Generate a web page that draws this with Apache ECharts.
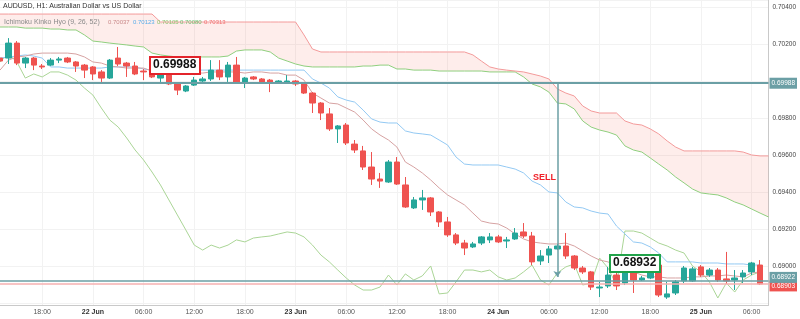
<!DOCTYPE html>
<html>
<head>
<meta charset="utf-8">
<script src="https://cdn.jsdelivr.net/npm/echarts@6/dist/echarts.min.js"></script>
<style>
  html, body { margin: 0; padding: 0; background: #fff; }
  #chart { width: 800px; height: 319px; }
</style>
</head>
<body>
<div id="chart"></div>
<script>
// hourly bars from 21 Jun 13:00, last slot left empty
var startDay = 21, startHour = 13, slotCount = 92;
var categories = [];
for (var i = 0; i < slotCount; i++) {
  var h = startHour + i;
  var d = startDay + Math.floor(h / 24);
  h = h % 24;
  categories.push(h === 0 ? d + ' Jun' : (h < 10 ? '0' + h : h) + ':00');
}

var open = [0.70124,0.70124,0.70205,0.70097,0.70124,0.70081,0.70086,0.70113,0.70124,0.70103,
  0.70086,0.70076,0.70049,0.70016,0.70124,0.70097,0.70081,0.70054,0.70059,0.70016,
  0.70032,0.69984,0.69946,0.69978,0.70000,0.70011,0.70059,0.70022,0.70086,0.69995,
  0.70022,0.70011,0.70005,0.69995,0.69995,0.70000,0.69984,0.69935,0.69881,0.69822,
  0.69741,0.69762,0.69659,0.69622,0.69535,0.69470,0.69454,0.69562,0.69438,0.69314,
  0.69357,0.69368,0.69292,0.69238,0.69168,0.69124,0.69103,0.69124,0.69141,0.69157,
  0.69135,0.69146,0.69184,0.69162,0.69027,0.69059,0.69092,0.69108,0.69054,0.68989,
  0.68968,0.68881,0.68892,0.68951,0.68908,0.68978,0.68924,0.68935,0.69005,0.68832,
  0.68854,0.68919,0.68919,0.68995,0.68951,0.68978,0.68930,0.68924,0.68941,0.68968,
  0.69005];
var close = [0.70108,0.70205,0.70097,0.70124,0.70086,0.70076,0.70113,0.70119,0.70103,0.70081,
  0.70059,0.70038,0.70016,0.70113,0.70092,0.70081,0.70038,0.70049,0.70022,0.70038,
  0.69984,0.69951,0.69973,0.70005,0.70011,0.70059,0.70022,0.70086,0.69989,0.70016,
  0.70011,0.69995,0.69989,0.70000,0.70000,0.69984,0.69935,0.69881,0.69827,0.69741,
  0.69757,0.69665,0.69627,0.69535,0.69470,0.69459,0.69562,0.69443,0.69319,0.69357,
  0.69368,0.69292,0.69238,0.69168,0.69124,0.69097,0.69119,0.69157,0.69157,0.69130,
  0.69141,0.69178,0.69162,0.69022,0.69054,0.69092,0.69108,0.69054,0.68989,0.68968,
  0.68886,0.68886,0.68951,0.68892,0.69032,0.68924,0.68935,0.69043,0.68843,0.68849,
  0.68914,0.68989,0.68984,0.68951,0.68978,0.68924,0.68919,0.68935,0.68962,0.69016,
  0.68903];
var low = [0.70097,0.70092,0.70086,0.70070,0.70059,0.70065,0.70081,0.70097,0.70097,0.70049,
  0.70016,0.70005,0.69995,0.70011,0.70081,0.70022,0.70032,0.70005,0.70016,0.69995,
  0.69978,0.69924,0.69940,0.69973,0.69995,0.70000,0.70005,0.69995,0.69984,0.69962,
  0.70005,0.69984,0.69940,0.69984,0.69984,0.69973,0.69930,0.69827,0.69789,0.69730,
  0.69665,0.69654,0.69611,0.69519,0.69438,0.69422,0.69449,0.69438,0.69314,0.69308,
  0.69303,0.69270,0.69211,0.69157,0.69113,0.69059,0.69097,0.69113,0.69124,0.69124,
  0.69097,0.69141,0.69151,0.69005,0.69005,0.69016,0.69086,0.69038,0.68978,0.68957,
  0.68870,0.68832,0.68881,0.68870,0.68897,0.68854,0.68919,0.68930,0.68832,0.68822,
  0.68843,0.68908,0.68914,0.68941,0.68941,0.68914,0.68903,0.68870,0.68908,0.68951,
  0.68897];
var high = [0.70130,0.70232,0.70216,0.70130,0.70130,0.70092,0.70124,0.70130,0.70130,0.70108,
  0.70092,0.70081,0.70059,0.70119,0.70184,0.70103,0.70103,0.70065,0.70070,0.70049,
  0.70038,0.69989,0.69978,0.70022,0.70022,0.70113,0.70113,0.70103,0.70130,0.70022,
  0.70027,0.70016,0.70011,0.70005,0.70032,0.70005,0.69989,0.69940,0.69886,0.69854,
  0.69762,0.69773,0.69681,0.69649,0.69616,0.69503,0.69573,0.69589,0.69481,0.69373,
  0.69411,0.69373,0.69297,0.69265,0.69178,0.69141,0.69130,0.69162,0.69178,0.69168,
  0.69157,0.69205,0.69232,0.69184,0.69086,0.69108,0.69119,0.69178,0.69059,0.69000,
  0.68973,0.68914,0.68995,0.68968,0.69043,0.68989,0.68946,0.69054,0.69016,0.68914,
  0.68924,0.69000,0.68995,0.69005,0.68989,0.68989,0.69076,0.68978,0.68978,0.69022,
  0.69032];

// Ichimoku (9, 26, 52)
var tenkan = [0.70059,0.70113,0.70130,0.70135,0.70146,0.70151,0.70151,0.70151,0.70151,0.70146,
  0.70130,0.70103,0.70097,0.70081,0.70076,0.70070,0.70070,0.70070,0.70054,0.70049,
  0.70043,0.70043,0.70043,0.70043,0.70043,0.70049,0.70049,0.70049,0.70049,0.70043,
  0.70049,0.70049,0.70043,0.70043,0.70032,0.70032,0.70005,0.69935,0.69908,0.69881,
  0.69876,0.69854,0.69832,0.69789,0.69741,0.69708,0.69681,0.69643,0.69562,0.69535,
  0.69503,0.69465,0.69422,0.69384,0.69357,0.69330,0.69286,0.69243,0.69232,0.69227,
  0.69205,0.69173,0.69146,0.69130,0.69124,0.69119,0.69119,0.69124,0.69108,0.69081,
  0.69054,0.69032,0.69022,0.69000,0.68973,0.68968,0.68951,0.68941,0.68941,0.68935,
  0.68935,0.68935,0.68941,0.68941,0.68946,0.68946,0.68951,0.68946,0.68941,0.68962,
  0.68968];
var kijun = [0.70124,0.70130,0.70135,0.70141,0.70135,0.70124,0.70076,0.70076,0.70070,0.70070,
  0.70070,0.70070,0.70070,0.70076,0.70076,0.70076,0.70076,0.70065,0.70059,0.70059,
  0.70059,0.70059,0.70059,0.70059,0.70059,0.70059,0.70059,0.70059,0.70059,0.70059,
  0.70059,0.70059,0.70059,0.70059,0.70059,0.70059,0.70059,0.70011,0.69989,0.69962,
  0.69914,0.69897,0.69886,0.69843,0.69795,0.69778,0.69773,0.69773,0.69730,0.69719,
  0.69714,0.69708,0.69681,0.69654,0.69589,0.69551,0.69546,0.69546,0.69546,0.69546,
  0.69535,0.69524,0.69503,0.69459,0.69438,0.69400,0.69395,0.69346,0.69319,0.69314,
  0.69297,0.69286,0.69281,0.69216,0.69173,0.69130,0.69124,0.69103,0.69070,0.69022,
  0.69022,0.69022,0.69022,0.69016,0.69016,0.69016,0.69011,0.69011,0.69011,0.69005,
  0.69005];
var chikou = [0.70103,0.70146,0.70103,0.70016,0.70038,0.70022,0.70049,0.70049,0.70032,0.70005,
  0.69962,0.69924,0.69854,0.69789,0.69751,0.69692,0.69627,0.69573,0.69508,0.69438,
  0.69357,0.69276,0.69195,0.69113,0.69086,0.69113,0.69097,0.69113,0.69141,0.69130,
  0.69151,0.69157,0.69162,0.69173,0.69184,0.69178,0.69157,0.69113,0.69059,0.69022,
  0.68978,0.68935,0.68897,0.68870,0.68870,0.68886,0.68951,0.68897,0.68957,0.68924,
  0.68946,0.69000,0.68849,0.68854,0.68914,0.68978,0.68978,0.68968,0.68978,0.68941,
  0.68924,0.68935,0.68968,0.69005,0.68924,0.68897,0.68962,0.68995,0.69011,0.68897,
  0.68908,0.69043,0.68989,0.68897,0.69189,0.69189,0.69178,0.69151,0.69124,0.69108,
  0.69086,0.69070,0.69000,0.68968,0.68914,0.68827,0.68908,0.68859,0.68924,0.68951,
  0.68968];
var spanA = [0.70292,0.70292,0.70292,0.70286,0.70286,0.70286,0.70281,0.70281,0.70276,0.70276,
  0.70249,0.70216,0.70211,0.70205,0.70200,0.70195,0.70189,0.70184,0.70151,0.70141,
  0.70135,0.70130,0.70130,0.70130,0.70130,0.70130,0.70130,0.70135,0.70162,0.70168,
  0.70168,0.70168,0.70157,0.70124,0.70108,0.70092,0.70081,0.70076,0.70076,0.70076,
  0.70076,0.70076,0.70076,0.70081,0.70081,0.70086,0.70086,0.70065,0.70065,0.70059,
  0.70059,0.70059,0.70054,0.70054,0.70054,0.70054,0.70054,0.70054,0.70049,0.70049,
  0.70049,0.70049,0.70022,0.69984,0.69968,0.69940,0.69881,0.69876,0.69849,0.69784,
  0.69751,0.69735,0.69724,0.69708,0.69649,0.69627,0.69616,0.69584,0.69551,0.69519,
  0.69481,0.69449,0.69416,0.69395,0.69389,0.69384,0.69368,0.69346,0.69330,0.69308,
  0.69286,0.69265];
var spanB = [0.70362,0.70362,0.70362,0.70362,0.70362,0.70362,0.70362,0.70362,0.70362,0.70362,
  0.70362,0.70362,0.70362,0.70362,0.70362,0.70362,0.70362,0.70362,0.70362,0.70319,
  0.70319,0.70319,0.70319,0.70319,0.70319,0.70319,0.70319,0.70319,0.70319,0.70319,
  0.70319,0.70319,0.70319,0.70319,0.70319,0.70319,0.70249,0.70173,0.70157,0.70157,
  0.70157,0.70157,0.70157,0.70157,0.70157,0.70157,0.70157,0.70157,0.70157,0.70157,
  0.70157,0.70157,0.70157,0.70157,0.70157,0.70157,0.70141,0.70108,0.70076,0.70065,
  0.70059,0.70054,0.70049,0.70038,0.70027,0.70011,0.69957,0.69935,0.69919,0.69865,
  0.69838,0.69827,0.69827,0.69827,0.69784,0.69768,0.69762,0.69741,0.69714,0.69676,
  0.69643,0.69622,0.69622,0.69622,0.69622,0.69622,0.69622,0.69622,0.69616,0.69600,
  0.69595,0.69595];

// drawn levels
var sellLevel = 0.69988;
var targetLevel = 0.68932;
var bidLevel = 0.68922;
var lastLevel = 0.68903;
var arrowBar = 66, arrowEnd = 0.68941;

var candles = open.map(function (o, i) { return [o, close[i], low[i], high[i]]; });
var cloudBand = spanB.map(function (b, i) { return +(b - spanA[i]).toFixed(5); });

function isMajor(idx) { return (startHour + idx) % 6 === 0; }

function priceTag(value, lineColor, tagColor, width, shift) {
  return {
    yAxis: value,
    lineStyle: { color: lineColor, width: width, type: 'solid' },
    label: {
      show: true, position: 'end', distance: 1, offset: [0, shift], formatter: value.toFixed(5),
      color: '#fff', backgroundColor: tagColor, fontSize: 6.5, padding: [2, 2]
    }
  };
}

var chart = echarts.init(document.getElementById('chart'));
var font = 'Liberation Sans';

chart.setOption({
  animation: false,
  backgroundColor: '#ffffff',
  textStyle: { fontFamily: font },
  grid: { left: -0.5, right: 31.5, top: 0, bottom: 14 },
  xAxis: {
    type: 'category',
    data: categories,
    boundaryGap: false,
    axisLine: { lineStyle: { color: '#c9c9c9' } },
    axisTick: { show: false },
    axisLabel: {
      interval: function (idx) { return isMajor(idx); },
      margin: 4,
      fontSize: 7,
      color: '#555',
      formatter: function (v) { return v.indexOf('Jun') > 0 ? '{b|' + v + '}' : v; },
      rich: { b: { fontWeight: 'bold', color: '#333', fontSize: 7 } }
    },
    splitLine: {
      show: true,
      interval: function (idx) { return isMajor(idx); },
      lineStyle: { color: '#f2f2f2' }
    }
  },
  yAxis: {
    type: 'value',
    position: 'right',
    min: 0.68789,
    max: 0.70438,
    splitNumber: 8,
    axisLine: { show: true, lineStyle: { color: '#c9c9c9' } },
    axisTick: { show: false },
    axisLabel: {
      margin: 4,
      fontSize: 6.5,
      color: '#444',
      showMinLabel: false,
      showMaxLabel: false,
      formatter: function (v) {
        if (v < 0.6889 || Math.abs(v - 0.7) < 0.0001) return '';
        return v.toFixed(5);
      }
    },
    splitLine: { lineStyle: { color: '#f2f2f2' } }
  },
  series: [
    { name: 'cloudBase', type: 'line', stack: 'cloud', data: spanA, showSymbol: false,
      lineStyle: { opacity: 0 }, silent: true, z: 1 },
    { name: 'cloud', type: 'line', stack: 'cloud', data: cloudBand, showSymbol: false,
      lineStyle: { opacity: 0 }, areaStyle: { color: 'rgba(244, 67, 54, 0.14)' }, silent: true, z: 1 },
    { name: 'Lead 1', type: 'line', data: spanA, showSymbol: false, z: 2,
      lineStyle: { color: '#8fcf7e', width: 1 } },
    { name: 'Lead 2', type: 'line', data: spanB, showSymbol: false, z: 2,
      lineStyle: { color: '#f39a9a', width: 1 } },
    { name: 'Lagging', type: 'line', data: chikou, showSymbol: false, z: 2,
      lineStyle: { color: '#aad596', width: 1 } },
    { name: 'Base', type: 'line', data: kijun, showSymbol: false, z: 2,
      lineStyle: { color: '#93c9f3', width: 1 } },
    { name: 'Conversion', type: 'line', data: tenkan, showSymbol: false, z: 2,
      lineStyle: { color: '#d6a2a2', width: 1 } },
    {
      name: 'AUDUSD', type: 'candlestick', data: candles, barWidth: 6, z: 3,
      itemStyle: {
        color: '#26a69a', color0: '#ef5350',
        borderColor: '#26a69a', borderColor0: '#ef5350', borderWidth: 1
      },
      markLine: {
        silent: true,
        precision: 5,
        symbol: ['none', 'none'],
        data: [
          priceTag(sellLevel, '#6b9fa5', '#6b9fa5', 2, 0),
          priceTag(lastLevel, '#f6b0b0', '#ef5350', 1.5, 2),
          priceTag(bidLevel, '#6b9fa5', '#6b9fa5', 1.5, -3),
          [
            { coord: [arrowBar, sellLevel], symbol: 'none' },
            { coord: [arrowBar, arrowEnd], symbol: 'arrow', symbolSize: 6,
              lineStyle: { color: '#6b9fa5', width: 1.5, type: 'solid' }, label: { show: false } }
          ]
        ]
      }
    }
  ],
  graphic: [
    { type: 'text', left: 3, top: 3, z: 100,
      style: { text: 'AUDUSD, H1: Australian Dollar vs US Dollar', fill: '#333', fontSize: 7, fontFamily: font } },
    { type: 'text', left: 4, top: 19, z: 100,
      style: { text: 'Ichimoku Kinko Hyo (9, 26, 52)', fill: '#8a8a8a', fontSize: 7, fontFamily: font } },
    { type: 'text', left: 108, top: 19.5, z: 100, style: { text: '0.70037', fill: '#c98a8a', fontSize: 6, fontFamily: font } },
    { type: 'text', left: 133, top: 19.5, z: 100, style: { text: '0.70123', fill: '#5aaeea', fontSize: 6, fontFamily: font } },
    { type: 'text', left: 157, top: 19.5, z: 100, style: { text: '0.70105', fill: '#8cc46f', fontSize: 6, fontFamily: font } },
    { type: 'text', left: 180, top: 19.5, z: 100, style: { text: '0.70080', fill: '#6fbf6f', fontSize: 6, fontFamily: font } },
    { type: 'text', left: 204, top: 19.5, z: 100, style: { text: '0.70313', fill: '#f07070', fontSize: 6, fontFamily: font } },
    { type: 'rect', left: 149, top: 56, z: 100, shape: { width: 50, height: 17 },
      style: { fill: '#fff', stroke: '#e3242b', lineWidth: 2 } },
    { type: 'text', left: 153, top: 58.5, z: 101,
      style: { text: sellLevel.toFixed(5), fill: '#111', fontSize: 12, fontWeight: 'bold', fontFamily: font } },
    { type: 'rect', left: 609, top: 254, z: 100, shape: { width: 50, height: 17 },
      style: { fill: '#fff', stroke: '#21a34a', lineWidth: 2 } },
    { type: 'text', left: 613, top: 256.5, z: 101,
      style: { text: targetLevel.toFixed(5), fill: '#111', fontSize: 12, fontWeight: 'bold', fontFamily: font } },
    { type: 'text', left: 533, top: 173, z: 100,
      style: { text: 'SELL', fill: '#f0222a', fontSize: 9, fontWeight: 'bold', fontFamily: font } }
  ]
});
</script>
</body>
</html>
